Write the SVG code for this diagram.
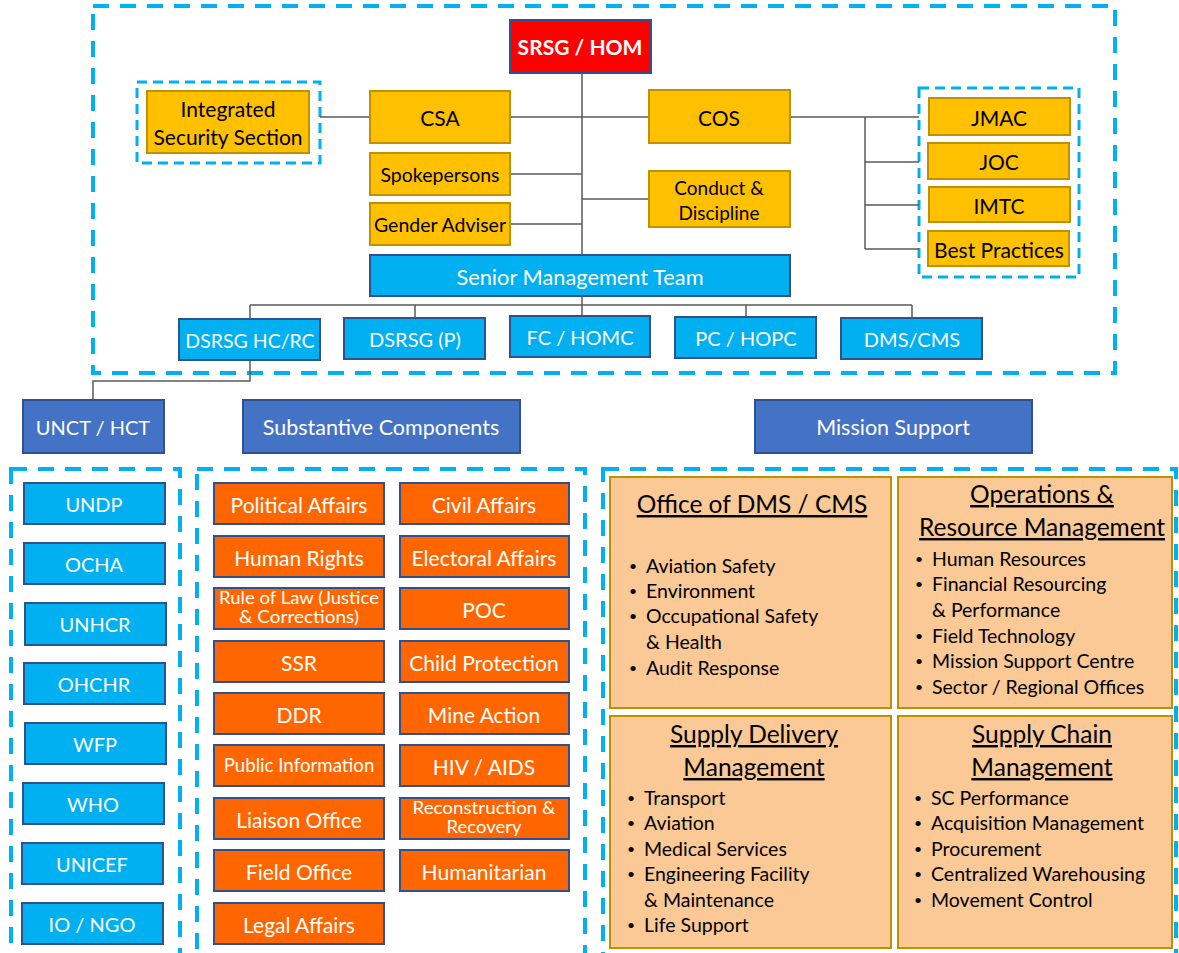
<svg xmlns="http://www.w3.org/2000/svg" width="1179" height="953" viewBox="0 0 1179 953">
<style>
.dash{fill:none;stroke:#00B0F0;stroke-width:4;stroke-dasharray:16 11}
.dashs{fill:none;stroke:#00B0F0;stroke-width:3;stroke-dasharray:10 6}
.yel{fill:#FFC000;stroke:#BF9000;stroke-width:2}
.red{fill:#FF0000;stroke:#2F528F;stroke-width:2}
.cyan{fill:#00B0F0;stroke:#2F528F;stroke-width:2}
.navy{fill:#4472C4;stroke:#2F528F;stroke-width:2}
.org{fill:#FF6600;stroke:#2F528F;stroke-width:2}
.peach{fill:#FAC995;stroke:#BF9000;stroke-width:2}
.conn{fill:none;stroke:#595959;stroke-width:1.5}
text{font-family:Lato,"Liberation Sans",sans-serif}
.c{text-anchor:middle;dominant-baseline:central}
.w{fill:#fff}
.k{fill:#000}
.f21{font-size:21px}
.f20{font-size:20px}
.f19{font-size:19.5px}
.f18{font-size:18.7px}
.f16{font-size:16.5px}
.hd{font-size:24.5px;text-anchor:middle;text-decoration:underline}
.b{font-size:19.5px}
.bu{font-size:14px}
</style>

<!-- dashed containers -->
<rect class="dash" x="93" y="6" width="1022" height="367"/>
<rect class="dashs" x="137" y="82" width="183" height="81"/>
<rect class="dashs" x="919" y="88" width="160" height="189"/>
<rect class="dash" x="11" y="469" width="169" height="500"/>
<rect class="dash" x="197" y="469" width="388" height="500"/>
<rect class="dash" x="603" y="469" width="573" height="500"/>

<!-- connectors -->
<g id="connectors">
  <path class="conn" d="M320 117H370M510 117H649M582 73V255M510 174H582M510 224H582M582 199H649"/>
  <path class="conn" d="M790 117H919M865 117V249M865 162H919M865 205H919M865 249H919"/>
  <path class="conn" d="M582 296V305M250 305H912M250 305V319M415 305V318M582 305V316M746 305V317M912 305V318"/>
  <path class="conn" d="M250 360V381H93V400"/>
</g>

<g id="srsg"><rect class="red" x="510" y="20" width="141" height="53"/><text class="c w" x="580" y="46" style="font-size:21px;font-weight:bold">SRSG / HOM</text></g>
<g id="iss"><rect class="yel" x="147" y="91" width="162" height="62"/><text class="c k f21" x="228" y="108">Integrated</text><text class="c k f21" x="228" y="136">Security Section</text></g>
<g id="csa"><rect class="yel" x="370" y="91" width="140" height="52"/><text class="c k f21" x="440" y="117">CSA</text></g>
<g id="spoke"><rect class="yel" x="370" y="153" width="140" height="42"/><text class="c k f19" x="440" y="174">Spokepersons</text></g>
<g id="gender"><rect class="yel" x="370" y="203" width="140" height="42"/><text class="c k f19" x="440" y="224">Gender Adviser</text></g>
<g id="cos"><rect class="yel" x="649" y="90" width="141" height="53"/><text class="c k f21" x="719" y="117">COS</text></g>
<g id="conduct"><rect class="yel" x="649" y="171" width="141" height="56"/><text class="c k" style="font-size:19px" x="719" y="187">Conduct &amp;</text><text class="c k" style="font-size:19px" x="719" y="212">Discipline</text></g>
<g id="jmac"><rect class="yel" x="929" y="98" width="141" height="37"/><text class="c k f21" x="999" y="117">JMAC</text></g>
<g id="joc"><rect class="yel" x="928" y="143" width="141" height="36"/><text class="c k f21" x="999" y="161">JOC</text></g>
<g id="imtc"><rect class="yel" x="929" y="187" width="141" height="35"/><text class="c k f21" x="999" y="205">IMTC</text></g>
<g id="bp"><rect class="yel" x="928" y="231" width="141" height="35"/><text class="c k f21" x="999" y="249">Best Practices</text></g>
<g id="smt"><rect class="cyan" x="370" y="255" width="420" height="41"/><text class="c w" style="font-size:21.8px" x="580" y="276">Senior Management Team</text></g>
<g id="dsrsg-hc"><rect class="cyan" x="179" y="319" width="141" height="41"/><text class="c w f19" x="250" y="340">DSRSG HC/RC</text></g>
<g id="dsrsg-p"><rect class="cyan" x="344" y="318" width="141" height="41"/><text class="c w f20" x="415" y="339">DSRSG (P)</text></g>
<g id="fc"><rect class="cyan" x="510" y="316" width="140" height="41"/><text class="c w f20" x="580" y="337">FC / HOMC</text></g>
<g id="pc"><rect class="cyan" x="675" y="317" width="141" height="41"/><text class="c w f20" x="746" y="338">PC / HOPC</text></g>
<g id="dms"><rect class="cyan" x="841" y="318" width="141" height="41"/><text class="c w f20" x="912" y="339">DMS/CMS</text></g>

<g id="unct"><rect class="navy" x="23" y="400" width="141" height="53"/><text class="c w f20" x="93" y="427">UNCT / HCT</text></g>
<g id="subst"><rect class="navy" x="243" y="400" width="277" height="53"/><text class="c w" style="font-size:21.5px" x="381" y="427">Substantive Components</text></g>
<g id="ms"><rect class="navy" x="755" y="400" width="277" height="53"/><text class="c w" style="font-size:21.5px" x="893" y="427">Mission Support</text></g>

<g id="undp"><rect class="cyan" x="24" y="483" width="141" height="41"/><text class="c w f20" x="94" y="504">UNDP</text></g>
<g id="ocha"><rect class="cyan" x="24" y="543" width="141" height="41"/><text class="c w f20" x="94" y="564">OCHA</text></g>
<g id="unhcr"><rect class="cyan" x="25" y="603" width="141" height="42"/><text class="c w f20" x="95" y="624">UNHCR</text></g>
<g id="ohchr"><rect class="cyan" x="24" y="663" width="141" height="41"/><text class="c w f20" x="94" y="684">OHCHR</text></g>
<g id="wfp"><rect class="cyan" x="25" y="723" width="141" height="41"/><text class="c w f20" x="95" y="744">WFP</text></g>
<g id="who"><rect class="cyan" x="23" y="783" width="141" height="41"/><text class="c w f20" x="93" y="804">WHO</text></g>
<g id="unicef"><rect class="cyan" x="22" y="843" width="141" height="41"/><text class="c w f20" x="92" y="864">UNICEF</text></g>
<g id="io"><rect class="cyan" x="22" y="903" width="141" height="41"/><text class="c w f20" x="92" y="924">IO / NGO</text></g>

<g id="pol"><rect class="org" x="214" y="483" width="170" height="41"/><text class="c w f21" x="299" y="504">Political Affairs</text></g>
<g id="hr"><rect class="org" x="214" y="536" width="170" height="41"/><text class="c w f21" x="299" y="557">Human Rights</text></g>
<g id="rol"><rect class="org" x="214" y="588" width="170" height="41"/><text class="c w f16" x="299" y="598" textLength="160" lengthAdjust="spacingAndGlyphs">Rule of Law (Justice</text><text class="c w f16" x="299" y="617" textLength="120" lengthAdjust="spacingAndGlyphs">&amp; Corrections)</text></g>
<g id="ssr"><rect class="org" x="214" y="641" width="170" height="41"/><text class="c w f21" x="299" y="662">SSR</text></g>
<g id="ddr"><rect class="org" x="214" y="693" width="170" height="41"/><text class="c w f21" x="299" y="714">DDR</text></g>
<g id="pi"><rect class="org" x="214" y="745" width="170" height="41"/><text class="c w f18" x="299" y="765">Public Information</text></g>
<g id="lo"><rect class="org" x="214" y="798" width="170" height="41"/><text class="c w f21" x="299" y="819">Liaison Office</text></g>
<g id="fo"><rect class="org" x="214" y="850" width="170" height="41"/><text class="c w f21" x="299" y="871">Field Office</text></g>
<g id="la"><rect class="org" x="214" y="903" width="170" height="41"/><text class="c w f21" x="299" y="924">Legal Affairs</text></g>

<g id="ca"><rect class="org" x="400" y="483" width="169" height="41"/><text class="c w f21" x="484" y="504">Civil Affairs</text></g>
<g id="ea"><rect class="org" x="400" y="536" width="169" height="41"/><text class="c w f21" x="484" y="557">Electoral Affairs</text></g>
<g id="poc"><rect class="org" x="400" y="588" width="169" height="41"/><text class="c w f21" x="484" y="609">POC</text></g>
<g id="cp"><rect class="org" x="400" y="641" width="169" height="41"/><text class="c w f21" x="484" y="662">Child Protection</text></g>
<g id="ma"><rect class="org" x="400" y="693" width="169" height="41"/><text class="c w f21" x="484" y="714">Mine Action</text></g>
<g id="hiv"><rect class="org" x="400" y="745" width="169" height="41"/><text class="c w f21" x="484" y="766">HIV / AIDS</text></g>
<g id="rr"><rect class="org" x="400" y="798" width="169" height="41"/><text class="c w f16" x="484" y="808" textLength="143" lengthAdjust="spacingAndGlyphs">Reconstruction &amp;</text><text class="c w f16" x="484" y="827" textLength="75" lengthAdjust="spacingAndGlyphs">Recovery</text></g>
<g id="hum"><rect class="org" x="400" y="850" width="169" height="41"/><text class="c w f21" x="484" y="871">Humanitarian</text></g>

<g id="odms"><rect class="peach" x="610" y="477" width="281" height="231"/>
<text class="hd k" x="752" y="513">Office of DMS / CMS</text>
<g class="k">
<text class="bu" x="629" y="571">•</text><text class="b" x="646" y="573">Aviation Safety</text>
<text class="bu" x="629" y="596">•</text><text class="b" x="646" y="598">Environment</text>
<text class="bu" x="629" y="621">•</text><text class="b" x="646" y="623">Occupational Safety</text>
<text class="b" x="646" y="649">&amp; Health</text>
<text class="bu" x="629" y="673">•</text><text class="b" x="646" y="675">Audit Response</text>
</g></g>

<g id="orm"><rect class="peach" x="898" y="477" width="274" height="231"/>
<text class="hd k" x="1042" y="503">Operations &amp;</text>
<text class="hd k" x="1042" y="536">Resource Management</text>
<g class="k">
<text class="bu" x="915" y="564">•</text><text class="b" x="932" y="566">Human Resources</text>
<text class="bu" x="915" y="589">•</text><text class="b" x="932" y="591">Financial Resourcing</text>
<text class="b" x="932" y="617">&amp; Performance</text>
<text class="bu" x="915" y="641">•</text><text class="b" x="932" y="643">Field Technology</text>
<text class="bu" x="915" y="666">•</text><text class="b" x="932" y="668">Mission Support Centre</text>
<text class="bu" x="915" y="692">•</text><text class="b" x="932" y="694">Sector / Regional Offices</text>
</g></g>

<g id="sdm"><rect class="peach" x="610" y="716" width="281" height="232"/>
<text class="hd k" x="754" y="743">Supply Delivery</text>
<text class="hd k" x="754" y="776">Management</text>
<g class="k">
<text class="bu" x="627" y="803">•</text><text class="b" x="644" y="805">Transport</text>
<text class="bu" x="627" y="828">•</text><text class="b" x="644" y="830">Aviation</text>
<text class="bu" x="627" y="854">•</text><text class="b" x="644" y="856">Medical Services</text>
<text class="bu" x="627" y="879">•</text><text class="b" x="644" y="881">Engineering Facility</text>
<text class="b" x="644" y="907">&amp; Maintenance</text>
<text class="bu" x="627" y="930">•</text><text class="b" x="644" y="932">Life Support</text>
</g></g>

<g id="scm"><rect class="peach" x="898" y="716" width="274" height="232"/>
<text class="hd k" x="1042" y="743">Supply Chain</text>
<text class="hd k" x="1042" y="776">Management</text>
<g class="k">
<text class="bu" x="914" y="803">•</text><text class="b" x="931" y="805">SC Performance</text>
<text class="bu" x="914" y="828">•</text><text class="b" x="931" y="830">Acquisition Management</text>
<text class="bu" x="914" y="854">•</text><text class="b" x="931" y="856">Procurement</text>
<text class="bu" x="914" y="879">•</text><text class="b" x="931" y="881">Centralized Warehousing</text>
<text class="bu" x="914" y="905">•</text><text class="b" x="931" y="907">Movement Control</text>
</g></g>
</svg>
